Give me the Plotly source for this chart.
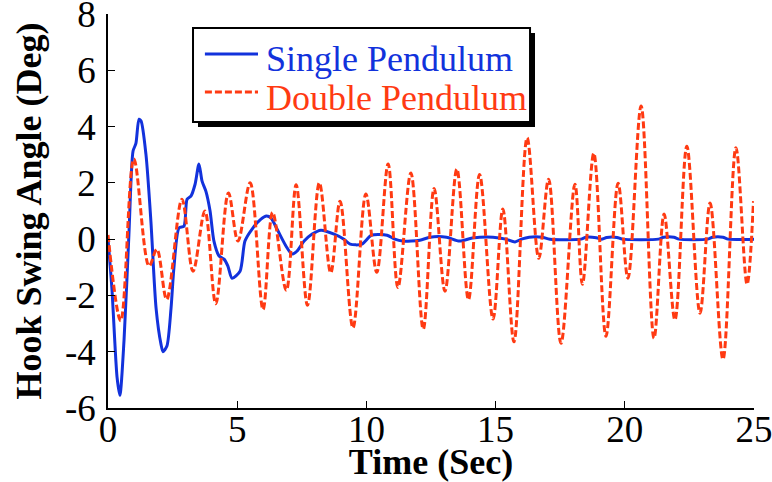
import plotly.graph_objects as go

# Hook swing angle (deg) vs time (s), single pendulum model
single_t = [0.0, 0.15, 0.35, 0.46, 0.62, 0.81, 0.97, 1.08, 1.2, 1.28, 1.47, 1.66, 1.86,
            2.05, 2.13, 2.28, 2.44, 2.55, 2.75, 2.94, 3.06, 3.21, 3.37, 3.52, 3.64, 3.79,
            3.95, 4.1, 4.3, 4.49, 4.64, 4.8, 5.11, 5.3, 5.57, 5.92, 6.13, 6.31, 6.54,
            6.89, 7.12, 7.31, 7.59, 7.9, 8.24, 8.75, 9.13, 9.37, 9.83, 10.2, 10.8, 11.1,
            11.4, 12.07, 12.46, 13.1, 13.6, 14.1, 14.9, 15.4, 15.75, 16.0, 16.3, 16.8,
            17.1, 18.3, 18.5, 18.9, 19.1, 19.3, 19.7, 19.9, 21.3, 21.5, 21.9, 22.1,
            23.2, 23.4, 23.8, 24.0, 25.0]
single_deg = [0.0, -1.74, -4.9, -5.55, -3.6, 0.18, 3.13, 3.4, 4.26, 4.2, 3.0, 0.64, -2.45,
              -3.73, -4.0, -3.8, -2.45, -1.03, 0.4, 0.46, 1.42, 1.53, 1.95, 2.67, 2.06, 1.7,
              1.0, -0.07, -0.6, -0.71, -0.96, -1.39, -1.14, -0.07, 0.35, 0.71, 0.82, 0.75, 0.36,
              -0.25, -0.53, -0.43, -0.07, 0.18, 0.32, 0.18, 0.0, -0.18, -0.18, 0.14, 0.14, 0.0,
              -0.07, -0.04, 0.07, 0.07, -0.07, 0.04, 0.07, 0.0, -0.1, 0.0, 0.07, 0.07,
              0.0, 0.0, 0.07, 0.05, 0.0, 0.06, 0.06, 0.0, 0.0, 0.07, 0.07, 0.0,
              0.0, 0.07, 0.07, 0.0, 0.0]

# Hook swing angle (deg) vs time (s), double pendulum model
double_t = [0.0, 0.49, 1.0, 1.59, 1.89, 2.27, 2.86, 3.29, 3.75, 4.17, 4.66, 5.03, 5.5,
            6.0, 6.37, 6.9, 7.28, 7.72, 8.18, 8.62, 8.98, 9.48, 9.98, 10.4, 10.84, 11.22,
            11.72, 12.2, 12.62, 13.04, 13.5, 13.95, 14.38, 14.9, 15.28, 15.71, 16.22,
            16.67, 17.05, 17.53, 18.07, 18.36, 18.8, 19.27, 19.74, 20.12, 20.63, 21.13,
            21.52, 21.94, 22.4, 22.91, 23.3, 23.8, 24.3, 24.73, 24.98]
double_deg = [0.15, -2.9, 2.85, -0.96, -0.36, -2.14, 1.42, -1.14, 1.0, -2.3, 1.64, -0.07, 2.0,
              -2.5, 0.95, -1.82, 1.93, -2.35, 2.0, -1.2, 1.35, -3.15, 1.6, -1.18, 2.67, -1.72,
              2.35, -3.2, 1.8, -1.85, 2.49, -2.15, 2.3, -2.84, 1.07, -3.65, 3.6,
              -0.68, 2.13, -3.7, 1.95, -1.6, 3.05, -3.45, 1.99, -1.39, 4.73, -3.52,
              0.89, -2.87, 3.3, -2.63, 1.28, -4.27, 3.25, -1.6, 1.35]

x_ticks = [0, 5, 10, 15, 20, 25]
y_ticks = [-6, -4, -2, 0, 2, 4, 6, 8]
y_tick_text = [str(v) for v in y_ticks]  # plain hyphen minus

names = ["Single Pendulum", "Double Pendulum"]
BLUE = "#1232DC"
RED = "#FF3A12"
RED_DASH = "7px,3px"
SERIF = "Liberation Serif"

fig = go.Figure()
fig.add_trace(go.Scatter(x=single_t, y=single_deg, mode="lines", name=names[0],
                         line=dict(color=BLUE, width=3, shape="spline", smoothing=0.7),
                         showlegend=False))
fig.add_trace(go.Scatter(x=double_t, y=double_deg, mode="lines", name=names[1],
                         line=dict(color=RED, width=3, dash=RED_DASH, shape="spline", smoothing=1.0),
                         showlegend=False))

tick_font = dict(family=SERIF, size=37, color="black")

xaxis = dict(range=[0, 25], tickmode="array", tickvals=x_ticks, ticktext=[str(v) for v in x_ticks],
             showline=True, linecolor="black", linewidth=1.5, ticks="inside", ticklen=7,
             tickwidth=1.2, tickcolor="black", showgrid=False, zeroline=False, automargin=False,
             tickfont=tick_font, ticklabeloverflow="allow", ticklabelstandoff=-12,
             title=dict(text="<b>Time (Sec)</b>", standoff=3,
                        font=dict(family=SERIF, size=36, color="black")))
yaxis = dict(range=[-6, 8], tickmode="array", tickvals=y_ticks, ticktext=y_tick_text,
             showline=True, linecolor="black", linewidth=1.5, ticks="inside", ticklen=7,
             tickwidth=1.2, tickcolor="black", showgrid=False, zeroline=False, automargin=False,
             tickfont=tick_font, ticklabeloverflow="allow", ticklabelstandoff=3,
             title=dict(text="<b>Hook Swing Angle (Deg)</b>", standoff=12,
                        font=dict(family=SERIF, size=36, color="black")))

# Boxed key with a drop shadow (paper coordinates)
bx0, bx1, by0, by1 = 0.1316, 0.6533, 0.7259, 0.9645
sx, sy = 0.0077, 0.0127
shapes = [
    dict(type="rect", xref="paper", yref="paper", x0=bx0 + sx, x1=bx1 + sx, y0=by0 - sy, y1=by1 - sy,
         fillcolor="black", line=dict(width=0)),
    dict(type="rect", xref="paper", yref="paper", x0=bx0, x1=bx1, y0=by0, y1=by1,
         fillcolor="white", line=dict(color="black", width=2)),
    dict(type="line", xref="paper", yref="paper", x0=0.150, x1=0.2322, y0=0.8985, y1=0.8985,
         line=dict(color=BLUE, width=3)),
    dict(type="line", xref="paper", yref="paper", x0=0.150, x1=0.2322, y0=0.802, y1=0.802,
         line=dict(color=RED, width=3, dash=RED_DASH)),
]
annotations = [
    dict(xref="paper", yref="paper", x=0.241, y=0.885, xanchor="left", yanchor="middle",
         text=names[0], showarrow=False, font=dict(family=SERIF, size=36, color=BLUE)),
    dict(xref="paper", yref="paper", x=0.241, y=0.787, xanchor="left", yanchor="middle",
         text=names[1], showarrow=False, font=dict(family=SERIF, size=36, color=RED)),
]

fig.update_layout(template="none", width=772, height=482,
                  margin=dict(l=108, r=18, t=14, b=74, autoexpand=False),
                  font=dict(family=SERIF, size=30, color="black"),
                  paper_bgcolor="white", plot_bgcolor="white",
                  xaxis=xaxis, yaxis=yaxis,
                  shapes=shapes, annotations=annotations, showlegend=False)

fig.write_html("out.html")
